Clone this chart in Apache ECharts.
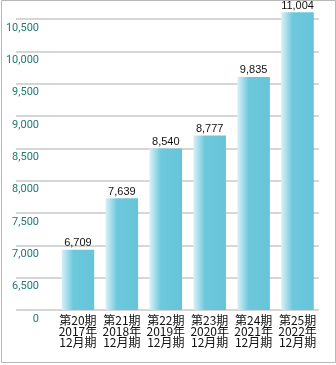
<!DOCTYPE html>
<html><head><meta charset="utf-8">
<script src="https://cdn.jsdelivr.net/npm/echarts@6/dist/echarts.min.js"></script>
<style>html,body{margin:0;padding:0;background:#fff}#c{width:336px;height:365px}</style>
</head><body><div id="c"></div>
<script>
const periods = ['第20期','第21期','第22期','第23期','第24期','第25期'];
const years = ['2017年','2018年','2019年','2020年','2021年','2022年'];
const months = ['12月期','12月期','12月期','12月期','12月期','12月期'];
const sales = [6709, 7639, 8540, 8777, 9835, 11004];
const yTickValues = [6000, 6500, 7000, 7500, 8000, 8500, 9000, 9500, 10000, 10500];
const yTickLabels = ['0', '6,500', '7,000', '7,500', '8,000', '8,500', '9,000', '9,500', '10,000', '10,500'];

const categories = periods.map((p, i) => p + '\n' + years[i] + '\n' + months[i]);

const chart = echarts.init(document.getElementById('c'), null, {renderer: 'canvas'});
chart.setOption({
  animation: false,
  backgroundColor: '#fff',
  graphic: [{
    type: 'rect', silent: true, z: 100,
    shape: {x: 1.5, y: 0.5, width: 334, height: 362},
    style: {fill: 'none', stroke: '#b8b8b8', lineWidth: 1}
  }],
  grid: [
    {left: 16, right: 17, top: 19, bottom: 55, containLabel: false},
    {left: 56, right: 16.5, top: 0, bottom: 55, containLabel: false}
  ],
  xAxis: [
    {type: 'category', gridIndex: 0, data: [''], show: false},
    {type: 'category', gridIndex: 1, data: categories,
      axisLine: {show: false}, axisTick: {show: false},
      axisLabel: {
        interval: 0, rotate: 0, hideOverlap: false, overflow: 'none',
        margin: 5, color: '#111', fontSize: 12, lineHeight: 11,
        fontFamily: "'Noto Sans CJK JP', sans-serif"
      }
    }
  ],
  yAxis: [
    {type: 'value', gridIndex: 0, min: yTickValues[0], max: yTickValues[yTickValues.length - 1], interval: 500,
      axisLine: {show: false}, axisTick: {show: false},
      splitLine: {show: true, lineStyle: {color: '#d6d6d6', width: 2}},
      axisLabel: {
        margin: -23, align: 'right', verticalAlign: 'top', lineHeight: 18,
        color: '#1f7a72', fontSize: 11,
        fontFamily: "'Liberation Sans Narrow', 'Roboto', sans-serif",
        formatter: v => { const i = yTickValues.indexOf(v); return i >= 0 ? yTickLabels[i] : ''; }
      }
    },
    {type: 'value', gridIndex: 1, min: 5620, max: 11227, show: false}
  ],
  series: [{
    type: 'bar', xAxisIndex: 1, yAxisIndex: 1, data: sales, barWidth: 32.5,
    itemStyle: {
      color: new echarts.graphic.LinearGradient(0, 0, 1, 0, [
        {offset: 0, color: '#d8f1f7'},
        {offset: 0.35, color: '#6dc8dc'},
        {offset: 1, color: '#66c4d9'}
      ])
    },
    label: {
      show: true, position: 'top', distance: 1, color: '#111', fontSize: 11,
      fontFamily: "'Liberation Sans', Arial, sans-serif",
      formatter: p => p.value.toLocaleString('en-US')
    }
  }]
});
</script></body></html>
